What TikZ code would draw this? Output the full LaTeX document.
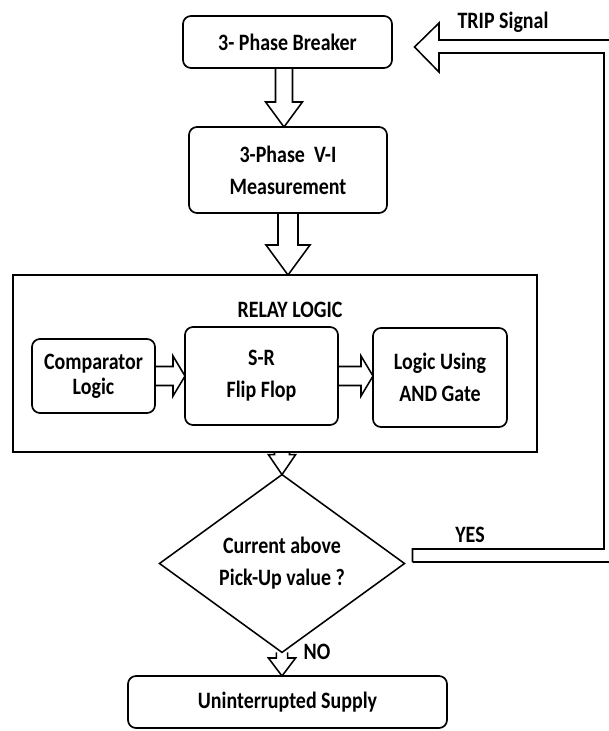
\documentclass[tikz,border=0pt]{standalone}
\usepackage{fontspec}
\setmainfont[FakeStretch=0.85]{Carlito}
\usetikzlibrary{shapes,arrows,positioning,calc}

% hollow block arrows: start, tip, shaft half width, head half width, head length
\newcommand{\hollowdown}[5]{%
  \draw[fat] ($(#1)+(-#3,0)$) -- ($(#2)+(-#3,#5)$) -- ($(#2)+(-#4,#5)$) -- (#2)
    -- ($(#2)+(#4,#5)$) -- ($(#2)+(#3,#5)$) -- ($(#1)+(#3,0)$);}
\newcommand{\hollowright}[5]{%
  \draw[fat] ($(#1)+(0,#3)$) -- ($(#2)+(-#5,#3)$) -- ($(#2)+(-#5,#4)$) -- (#2)
    -- ($(#2)+(-#5,-#4)$) -- ($(#2)+(-#5,-#3)$) -- ($(#1)+(0,-#3)$);}

\begin{document}
\begin{tikzpicture}[
    block/.style={draw, rounded corners=0.2cm, line width=1.2pt, inner sep=0pt, outer sep=0pt, align=center, font=\fontsize{16.7}{22.8}\selectfont\bfseries},
    frame/.style={draw, line width=1.1pt, inner sep=0pt, outer sep=0pt},
    decision/.style={draw, diamond, line width=1.1pt, inner sep=0pt, outer sep=0pt, align=center, font=\fontsize{16.7}{22.8}\selectfont\bfseries},
    fat/.style={draw, line width=1.1pt, line join=miter},
    label/.style={font=\fontsize{16.7}{20}\selectfont\bfseries},
]

\useasboundingbox (0,0) rectangle (15.2,-18.275);

% Main chain
\node[block, minimum width=5.225cm, minimum height=1.3cm] (brk) at (7.1875, -1.05) {3- Phase Breaker};
\node[block, minimum width=4.95cm, minimum height=2.15cm] (meas) at (7.2, -4.25) {3-Phase\ \ V-I\\Measurement};

% Relay logic frame
\node[frame, minimum width=13.1cm, minimum height=4.425cm] (relay) at (6.875, -9.0875) {};
\node[label] (relaytitle) at (7.25, -7.75) {RELAY LOGIC};
\node[block, minimum width=3.075cm, minimum height=1.85cm, font=\fontsize{16.7}{17.8}\selectfont\bfseries] (comp) at (2.3375, -9.4) {Comparator\\Logic};
\node[block, minimum width=3.825cm, minimum height=2.45cm] (srff) at (6.5375, -9.4) {S-R\\Flip Flop};
\node[block, minimum width=3.35cm, minimum height=2.475cm] (andl) at (11.0, -9.4375) {Logic Using\\AND Gate};

% Decision and supply
\node[decision, minimum width=6.125cm, minimum height=3.675cm] (dec) at (7.05, -14.0875) {Current above\\Pick-Up value ?};
\node[block, minimum width=7.975cm, minimum height=1.3cm] (sup) at (7.1875, -17.55) {Uninterrupted Supply};

% Block arrows
\hollowdown{brk.south -| 7.1,0}{meas.north -| 7.1,0}{0.2125}{0.46}{0.625}
\hollowdown{meas.south}{meas.south |- relay.north}{0.25}{0.55}{0.75}
\hollowdown{relay.south -| dec.north}{dec.north}{0.1875}{0.34}{0.5}
\hollowdown{dec.south}{dec.south |- sup.north}{0.14}{0.34}{0.45}
\hollowright{comp.east}{comp.east -| srff.west}{0.2375}{0.5}{0.3}
\hollowright{srff.east}{srff.east -| andl.west}{0.2375}{0.5}{0.3}

% Trip signal return path
\draw[fat] ($(dec.east)+(0.2,0.0375)$) coordinate (yesL) -- ++(0,0.325) -- (15.1,-13.725)
  -- (15.1,-1.325) -- (10.975,-1.325) -- (10.975,-1.8) -- ($(brk.east)+(0.5625,-0.125)$)
  -- (10.975,-0.575) -- (10.975,-1.0) -- (15.4,-1.0);
\draw[fat] (yesL) -- (15.4,-14.05);

\node[label] (yes) at (11.75, -13.375) {YES};
\node[label] (no) at (7.925, -16.3) {NO};
\node[label] (trip) at (12.575, -0.55) {TRIP Signal};

\end{tikzpicture}
\end{document}
